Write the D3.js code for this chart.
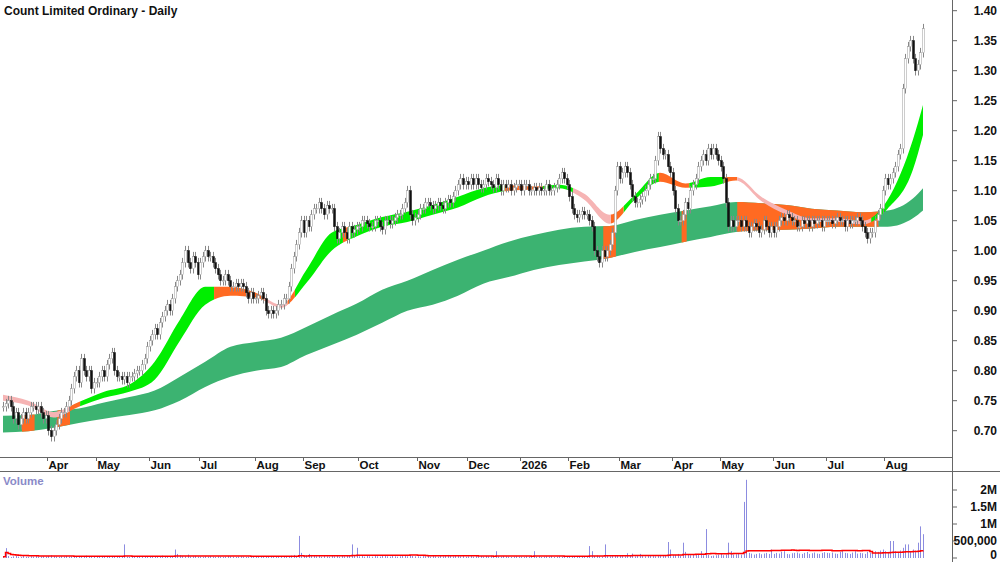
<!DOCTYPE html>
<html><head><meta charset="utf-8">
<script src="https://cdn.jsdelivr.net/npm/d3@7/dist/d3.min.js"></script>
<style>body{margin:0;background:#fff}svg{display:block;font-family:Arial,"Liberation Sans",sans-serif}</style>
</head><body><svg id="c" width="1000" height="562"></svg>
<script>
const monthLabels=["","Apr","May","Jun","Jul","Aug","Sep","Oct","Nov","Dec","2026","Feb","Mar","Apr","May","Jun","Jul","Aug"];
const closesByMonth=[
[0.74,0.745,0.75,0.74,0.72,0.73,0.71,0.72,0.73,0.72,0.73,0.74,0.74,0.735,0.74,0.73,0.72,0.725],
[0.70,0.69,0.70,0.71,0.72,0.73,0.73,0.74,0.75,0.77,0.79,0.80,0.78,0.82,0.80,0.79,0.80,0.77,0.78],
[0.78,0.79,0.80,0.79,0.81,0.82,0.83,0.80,0.79,0.79,0.785,0.79,0.78,0.79,0.79,0.795,0.80,0.80,0.81,0.82,0.84],
[0.85,0.86,0.87,0.86,0.88,0.89,0.90,0.91,0.90,0.92,0.94,0.95,0.96,0.98,1.00,0.98,0.97,0.99,0.98,0.96],
[0.98,0.99,1.00,0.99,0.99,0.98,0.97,0.96,0.95,0.95,0.96,0.95,0.94,0.94,0.945,0.94,0.945,0.94,0.93,0.92,0.93,0.92],
[0.92,0.925,0.93,0.92,0.90,0.895,0.90,0.895,0.90,0.91,0.91,0.92,0.92,0.94,0.97,0.99,1.01,1.03,1.05],
[1.03,1.05,1.04,1.06,1.07,1.07,1.08,1.07,1.06,1.075,1.07,1.07,1.04,1.02,1.03,1.04,1.03,1.02,1.04,1.03,1.035,1.04],
[1.04,1.05,1.05,1.045,1.04,1.04,1.05,1.05,1.04,1.035,1.05,1.05,1.045,1.05,1.055,1.06,1.06,1.07,1.08,1.10,1.06,1.05,1.055],
[1.06,1.07,1.07,1.08,1.08,1.075,1.07,1.075,1.08,1.075,1.07,1.08,1.085,1.08,1.09,1.10,1.11,1.12,1.11,1.115],
[1.11,1.12,1.11,1.12,1.11,1.105,1.11,1.12,1.115,1.11,1.105,1.12,1.11,1.10,1.11,1.105,1.11,1.10,1.105,1.11,1.11],
[1.10,1.11,1.11,1.10,1.10,1.105,1.10,1.105,1.10,1.10,1.11,1.10,1.10,1.105,1.11,1.12,1.13,1.12,1.11],
[1.09,1.07,1.06,1.055,1.06,1.065,1.06,1.06,1.05,1.04,1.00,0.99,0.98,1.00,0.99,1.00,1.01,1.03,1.10,1.14],
[1.12,1.13,1.14,1.13,1.11,1.09,1.08,1.08,1.085,1.09,1.10,1.11,1.12,1.12,1.15,1.19,1.17,1.16,1.16,1.14,1.13],
[1.10,1.07,1.05,1.05,1.06,1.08,1.07,1.10,1.11,1.12,1.14,1.15,1.16,1.15,1.17,1.16,1.17,1.16,1.15],
[1.14,1.12,1.08,1.04,1.05,1.04,1.05,1.05,1.04,1.05,1.04,1.03,1.04,1.045,1.04,1.03,1.035,1.05,1.04,1.03,1.04],
[1.03,1.04,1.05,1.055,1.05,1.06,1.055,1.05,1.05,1.04,1.04,1.05,1.045,1.05,1.04,1.05,1.045,1.05,1.05,1.04,1.05],
[1.05,1.05,1.045,1.05,1.055,1.05,1.05,1.04,1.05,1.045,1.05,1.05,1.055,1.05,1.04,1.03,1.02,1.03,1.03,1.05,1.06,1.07,1.10],
[1.12,1.11,1.12,1.13,1.14,1.16,1.17,1.27,1.32,1.34,1.35,1.32,1.30,1.31,1.33,1.37]];
const volumeByMonth=[ // thousands
[40,290,60,30,50,70,40,30,60,40,30,50,40,60,30,40,50,40],
[60,80,50,40,30,50,40,60,40,50,30,40,60,50,40,70,50,40,30],
[40,50,30,60,40,30,50,40,40,60,50,400,40,30,50,40,30,60,40,50,40],
[50,60,40,50,40,70,60,50,40,60,250,120,80,60,50,100,40,50,60,40],
[40,30,50,40,60,40,30,50,40,30,40,60,50,40,30,40,50,40,30,40,50,40],
[30,40,50,40,30,40,60,50,40,30,50,40,60,50,70,90,60,650,150],
[60,80,120,90,60,50,70,40,60,50,40,60,50,70,40,60,50,80,60,400,60,300],
[50,60,40,80,50,40,60,50,40,70,60,50,40,60,50,40,50,70,60,50,80,60,50],
[50,40,60,50,70,40,60,50,40,60,50,70,90,60,50,80,60,50,60,40],
[50,60,40,70,50,60,40,60,50,70,40,200,50,40,60,50,40,30,40,50,40],
[40,30,50,40,30,200,40,50,30,40,50,40,60,30,40,50,40,30,40],
[40,50,60,40,50,60,40,50,350,200,60,70,50,40,400,60,50,80,60,70],
[60,80,50,140,60,130,50,70,120,60,50,80,60,70,50,60,90,60,80,470,250],
[80,90,120,60,450,180,100,80,110,90,120,200,80,850,90,60,70,80,100],
[120,80,100,450,200,90,110,120,100,1650,2300,150,130,100,120,140,110,130,150,120,250],
[120,150,130,180,200,120,110,140,150,160,130,120,150,180,120,140,160,130,120,150,170],
[150,140,160,130,120,180,200,150,140,120,160,200,130,150,140,120,180,160,140,200,180,220,250],
[200,180,500,500,200,180,220,300,400,400,200,250,220,450,930,700]];
const bandIdx=[0,10,20,30,40,50,60,70,80,90,100,110,120,130,140,150,160,170,180,190,200,210,220,230,240,250,260,270,280,290,300,310,320,330,340,350,360,364];
const slowTop=[0.725,0.726,0.733,0.737,0.747,0.756,0.767,0.79,0.815,0.84,0.848,0.855,0.873,0.893,0.912,0.935,0.95,0.968,0.985,1.00,1.015,1.026,1.035,1.04,1.041,1.051,1.06,1.067,1.074,1.081,1.079,1.076,1.07,1.067,1.064,1.067,1.087,1.104];
const slowBot=[0.697,0.699,0.705,0.713,0.72,0.726,0.734,0.75,0.773,0.79,0.80,0.806,0.826,0.843,0.86,0.88,0.90,0.91,0.925,0.945,0.956,0.968,0.976,0.982,0.988,0.998,1.006,1.015,1.023,1.031,1.034,1.035,1.037,1.04,1.04,1.04,1.054,1.067];
const fastTop=[0.76,0.75,0.731,0.748,0.765,0.777,0.815,0.885,0.94,0.94,0.93,0.91,0.968,1.03,1.043,1.056,1.065,1.076,1.09,1.104,1.109,1.107,1.11,1.095,1.06,1.093,1.13,1.112,1.123,1.123,1.09,1.068,1.054,1.054,1.05,1.085,1.185,1.243];
const fastBot=[0.75,0.742,0.722,0.74,0.755,0.765,0.785,0.85,0.91,0.925,0.922,0.905,0.946,1.00,1.024,1.04,1.048,1.06,1.072,1.09,1.10,1.102,1.104,1.085,1.045,1.085,1.115,1.105,1.107,1.117,1.083,1.06,1.048,1.048,1.044,1.07,1.135,1.193];
const fastLime=[[31,84],[116,135],[137,199],[214,226],[246,260],[272,286],[344,365]];
const fastOrange=[[27,31],[84,104],[113,116],[135,137],[199,214],[241,246],[260,272],[286,291]];
const fastPink=[[-1,27],[104,113],[226,241],[291,344]];
const slowOrange=[[8,13],[22,27],[238,243],[269,271],[291,347]];
const priceTicks=[0.70,0.75,0.80,0.85,0.90,0.95,1.00,1.05,1.10,1.15,1.20,1.25,1.30,1.35,1.40];
const volTicks=[[0,"0"],[500000,"500,000"],[1000000,"1M"],[1500000,"1.5M"],[2000000,"2M"]];

const closes=[],vols=[],monthStart=[];
closesByMonth.forEach((m,k)=>{monthStart.push(closes.length);m.forEach((c,j)=>{closes.push(c);vols.push(volumeByMonth[k][j]*1000);});});
const N=closes.length;
const svg=d3.select("#c");
const x=d3.scaleLinear().domain([0,N-1]).range([3,923]);
const y=d3.scaleLinear().domain([0.70,1.40]).range([430.7,10.7]);
const yv=d3.scaleLinear().domain([0,2000000]).range([558,490]);
const AX=952;

const defs=svg.append("defs");
function clip(id,ranges,y0,y1){const cp=defs.append("clipPath").attr("id",id);
 ranges.forEach(r=>cp.append("rect").attr("x",x(r[0]-0.5)).attr("width",x(r[1]-0.5)-x(r[0]-0.5)).attr("y",y0).attr("height",y1-y0));}
clip("cl",fastLime,0,457);clip("co",fastOrange,0,457);clip("cp",fastPink,0,457);clip("cso",slowOrange,0,457);
defs.append("clipPath").attr("id","plot").append("rect").attr("x",0).attr("y",0).attr("width",AX).attr("height",457);

const bands=bandIdx.map((b,i)=>({i:b,st:slowTop[i],sb:slowBot[i],ft:fastTop[i],fb:fastBot[i]}));
const slowArea=d3.area().curve(d3.curveMonotoneX).x(d=>x(d.i)).y0(d=>y(d.sb)).y1(d=>y(d.st));
const fastArea=d3.area().curve(d3.curveMonotoneX).x(d=>x(d.i)).y0(d=>y(d.fb)).y1(d=>y(d.ft));
const g=svg.append("g").attr("clip-path","url(#plot)");
g.append("path").datum(bands).attr("d",slowArea).attr("fill","#3cb371");
g.append("g").attr("clip-path","url(#cso)").append("path").datum(bands).attr("d",slowArea).attr("fill","#ff6a22");
[["cl","#00ee00"],["co","#ff6a22"],["cp","#f6b4b4"]].forEach(([id,c])=>g.append("g").attr("clip-path",`url(#${id})`).append("path").datum(bands).attr("d",fastArea).attr("fill",c));

// candles
const cg=g.append("g");
closes.forEach((c,i)=>{const o=i?closes[i-1]:c;const hi=Math.max(o,c)+0.008,lo=Math.min(o,c)-0.008;const cx=Math.round(x(i))+0.5;
 cg.append("line").attr("x1",cx).attr("x2",cx).attr("y1",y(hi)).attr("y2",y(lo)).attr("stroke","#888").attr("stroke-width",1);
 const up=c>=o;const t=y(Math.max(o,c)),b=y(Math.min(o,c));
 cg.append("rect").attr("x",cx-1).attr("y",t).attr("width",2).attr("height",Math.max(1,b-t)).attr("fill",up?"#fff":"#111").attr("stroke",up?"#999":"#111").attr("stroke-width",0.5);});

// axes lines
svg.append("line").attr("x1",AX+0.5).attr("x2",AX+0.5).attr("y1",0).attr("y2",562).attr("stroke","#666");
svg.append("line").attr("x1",0).attr("x2",AX).attr("y1",457.5).attr("y2",457.5).attr("stroke","#666");
svg.append("line").attr("x1",0).attr("x2",1000).attr("y1",471.5).attr("y2",471.5).attr("stroke","#666");
priceTicks.forEach(p=>{svg.append("line").attr("x1",AX).attr("x2",AX+5).attr("y1",y(p)).attr("y2",y(p)).attr("stroke","#666");
 svg.append("text").attr("x",997).attr("y",y(p)+4).attr("text-anchor","end").attr("font-size",12).attr("font-weight","bold").attr("fill","#111").text(p.toFixed(2));});
monthStart.forEach((s,k)=>{if(!monthLabels[k])return;const tx=Math.round(x(s)-1)+0.5;
 svg.append("line").attr("x1",tx).attr("x2",tx).attr("y1",457).attr("y2",461).attr("stroke","#666");
 svg.append("text").attr("x",tx+1).attr("y",469).attr("font-size",11.5).attr("font-weight","bold").attr("fill","#111").text(monthLabels[k]);});
svg.append("text").attr("x",4).attr("y",15).attr("font-size",12).attr("font-weight","bold").attr("fill","#111").text("Count Limited Ordinary - Daily");

// volume
svg.append("text").attr("x",3).attr("y",485).attr("font-size",11.5).attr("font-weight","bold").attr("fill","#8a8ac8").text("Volume");
vols.forEach((v,i)=>{const cx=Math.round(x(i))+0.5;svg.append("line").attr("x1",cx).attr("x2",cx).attr("y1",yv(0)).attr("y2",yv(v)).attr("stroke","#8c8ce0").attr("stroke-width",1);});
const ma=vols.map((v,i)=>{const a=vols.slice(Math.max(0,i-49),i+1);return d3.mean(a);});
svg.append("path").datum(ma).attr("d",d3.line().x((d,i)=>x(i)).y(d=>yv(d)).curve(d3.curveStepAfter)).attr("fill","none").attr("stroke","#ff0000").attr("stroke-width",1.5);
volTicks.forEach(([v,l])=>{svg.append("line").attr("x1",AX).attr("x2",AX+5).attr("y1",yv(v)).attr("y2",yv(v)).attr("stroke","#666");
 svg.append("text").attr("x",997).attr("y",Math.min(yv(v)+4,559)).attr("text-anchor","end").attr("font-size",12).attr("font-weight","bold").attr("fill","#111").text(l);});
</script></body></html>
